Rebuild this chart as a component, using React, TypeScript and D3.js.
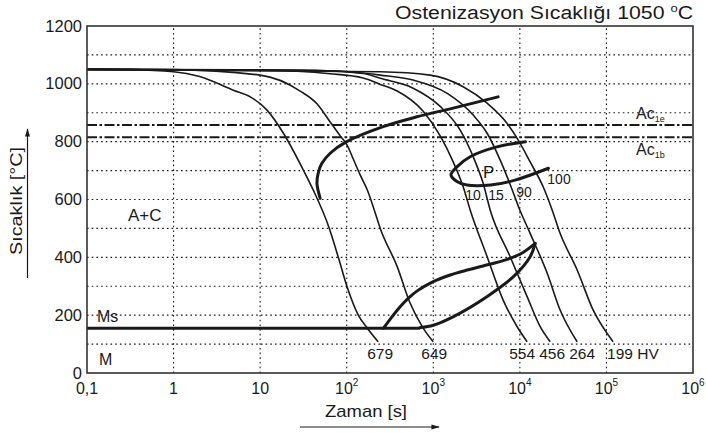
import React, { useEffect, useRef } from "react";
import * as d3 from "d3";

// axis ticks
const yTicks = [0, 200, 400, 600, 800, 1000, 1200];
const yGrid = [100, 200, 300, 400, 500, 600, 700, 800, 900, 1000, 1100];
const xTicks = [0.1, 1, 10, 100, 1e3, 1e4, 1e5, 1e6];
const xTickBase = ["0,1", "1", "10", "10", "10", "10", "10", "10"];
const xTickExp = ["", "", "", "2", "3", "4", "5", "6"];
const xGrid = [1, 10, 100, 1e3, 1e4, 1e5];

// critical temperatures
const ac1e = 858;
const ac1b = 815;
const msTemp = 155;

// cooling curves [time s, temperature °C]
const curve679 = [[0.1, 1050], [0.32, 1049], [1, 1042], [2, 1025], [4.9, 978], [7.7, 955], [12, 909], [18.5, 830], [31.5, 702], [41, 633], [63, 500], [80, 400], [101, 298], [136, 200], [173, 155], [231, 108]];
const curve649 = [[0.1, 1050], [1, 1049], [10, 1030], [29, 975], [45.6, 930], [64.4, 868], [84.1, 820], [101, 788], [119, 740], [143, 685], [173, 633], [208, 564], [244, 500], [383, 368], [541, 241], [764, 155], [998, 108]];
const curve554 = [[0.1, 1050], [10, 1047], [64, 1035], [155, 1020], [244, 998], [383, 975], [764, 905], [1202, 820], [1698, 730], [2213, 644], [2667, 564], [4188, 402], [6412, 252], [9311, 160], [12130, 108]];
const curve456 = [[0.1, 1050], [29, 1048], [155, 1036], [244, 1019], [586, 985], [1202, 922], [2046, 840], [2891, 748], [3767, 656], [4539, 564], [7727, 402], [12130, 264], [17180, 160], [22390, 108]];
const curve264 = [[0.1, 1050], [64, 1045], [244, 1030], [586, 1013], [1449, 967], [2891, 892], [4188, 829], [5929, 736], [7727, 652], [9800, 570], [13150, 483], [20700, 345], [29170, 218], [45920, 108]];
const curve199 = [[0.1, 1050], [244, 1042], [920, 1030], [2213, 990], [4188, 933], [7129, 863], [9550, 806], [13150, 730], [18580, 644], [23600, 564], [29170, 483], [45920, 356], [70150, 218], [119400, 108]];
const coolingCurves = [curve679, curve649, curve554, curve456, curve264, curve199];
const hardness = ["679", "649", "554", "456", "264", "199 HV"];

// transformation lines
const ferriteStart = [[49.4, 604], [45.3, 656], [47.3, 696], [51.7, 725], [64.4, 760], [100, 800], [264, 852], [647, 886], [1698, 916], [5610, 955]];
const pearliteLoop = [[11600, 800], [5420, 782], [2667, 748], [1875, 713], [1600, 685], [1875, 662], [2443, 650], [4600, 650], [8800, 667], [21380, 708]];
const bainiteUpper = [[266, 155], [335, 195], [414, 229], [513, 258], [652, 284], [998, 316], [1567, 339], [2462, 356], [3767, 370], [7129, 393], [10640, 415], [15030, 448]];
const bainiteLower = [[706, 157], [1000, 165], [1710, 195], [4159, 264], [8435, 333], [13150, 402], [15030, 448]];
const msEnd = 706;

// pearlite percentages
const pearlitePct = ["10", "15", "90", "100"];

const App = () => {
  const ref = useRef<SVGSVGElement>(null);

  useEffect(() => {
    const svg = d3.select(ref.current);
    svg.selectAll("*").remove();
    const font = "'Liberation Sans', Arial, sans-serif";
    const ink = "#1a1a1a";

    const x = d3.scaleLog().domain([0.1, 1e6]).range([87, 693]);
    const y = d3.scaleLinear().domain([0, 1200]).range([373, 26]);

    // grid
    svg.append("g")
      .selectAll("line")
      .data(yGrid)
      .enter()
      .append("line")
      .attr("x1", x(0.1)).attr("x2", x(1e6))
      .attr("y1", (d) => y(d)).attr("y2", (d) => y(d))
      .attr("stroke", ink).attr("stroke-width", 1.1)
      .attr("stroke-dasharray", "1.6,3.1");
    svg.append("g")
      .selectAll("line")
      .data(xGrid)
      .enter()
      .append("line")
      .attr("x1", (d) => x(d)).attr("x2", (d) => x(d))
      .attr("y1", y(0)).attr("y2", y(1200))
      .attr("stroke", ink).attr("stroke-width", 1.1)
      .attr("stroke-dasharray", "1.6,3.1");

    // Ac1e / Ac1b dash-dot lines
    [ac1e, ac1b].forEach((t) => {
      svg.append("line")
        .attr("x1", x(0.1)).attr("x2", x(1e6))
        .attr("y1", y(t)).attr("y2", y(t))
        .attr("stroke", ink).attr("stroke-width", 2)
        .attr("stroke-dasharray", "10,2.5,2.5,2.5");
    });

    const cool = d3.line<number[]>()
      .x((d) => x(d[0]))
      .y((d) => y(d[1]))
      .curve(d3.curveMonotoneX);
    const smooth = d3.line<number[]>()
      .x((d) => x(d[0]))
      .y((d) => y(d[1]))
      .curve(d3.curveCatmullRom.alpha(0.5));

    // cooling curves
    svg.append("g")
      .selectAll("path")
      .data(coolingCurves)
      .enter()
      .append("path")
      .attr("d", (d) => cool(d))
      .attr("fill", "none")
      .attr("stroke", ink)
      .attr("stroke-width", 1.6);

    // transformation lines (thick)
    [ferriteStart, pearliteLoop, bainiteUpper, bainiteLower].forEach((pts) => {
      svg.append("path")
        .attr("d", smooth(pts))
        .attr("fill", "none")
        .attr("stroke", ink)
        .attr("stroke-width", 3)
        .attr("stroke-linecap", "round");
    });

    // Ms line
    svg.append("line")
      .attr("x1", x(0.1)).attr("x2", x(msEnd))
      .attr("y1", y(msTemp)).attr("y2", y(msTemp))
      .attr("stroke", ink).attr("stroke-width", 3);

    // frame
    svg.append("rect")
      .attr("x", x(0.1)).attr("y", y(1200))
      .attr("width", x(1e6) - x(0.1))
      .attr("height", y(0) - y(1200))
      .attr("fill", "none")
      .attr("stroke", "#333")
      .attr("stroke-width", 1.6);

    const text = (tx: number, ty: number, s: string, size = 16, anchor = "start") =>
      svg.append("text")
        .attr("x", tx).attr("y", ty)
        .attr("font-family", font)
        .attr("font-size", size)
        .attr("text-anchor", anchor)
        .attr("fill", ink)
        .text(s);

    // y tick labels
    yTicks.forEach((t) => text(82, y(t) + 5.5, String(t), 16.5, "end"));

    // x tick labels with superscripts
    xTicks.forEach((t, i) => {
      const lab = svg.append("text")
        .attr("x", x(t)).attr("y", 394)
        .attr("font-family", font)
        .attr("font-size", 16)
        .attr("text-anchor", "middle")
        .attr("fill", ink);
      lab.append("tspan").text(xTickBase[i]);
      if (xTickExp[i]) {
        lab.append("tspan").attr("font-size", 10).attr("dy", -8).text(xTickExp[i]);
      }
    });

    // hardness values under curve ends
    const hvNudge = [2, 1, -5, 2, 5, -6];
    coolingCurves.forEach((c, i) => {
      const end = c[c.length - 1];
      text(x(end[0]) + hvNudge[i], 359, hardness[i], 15.5, i === 5 ? "start" : "middle");
    });

    // region labels
    text(97, 322, "Ms", 16);
    text(99, 365, "M", 16);
    text(128, 221, "A+C", 17);
    text(483, 178, "P", 17);

    // pearlite percentages
    const pctPos = [[473, 200], [496, 200], [524, 197], [559, 184]];
    pearlitePct.forEach((s, i) => text(pctPos[i][0], pctPos[i][1], s, 14, "middle"));

    // Ac labels with subscripts
    const acLabel = (ty: number, sub: string) => {
      const t = svg.append("text")
        .attr("x", 636).attr("y", ty)
        .attr("font-family", font)
        .attr("font-size", 16)
        .attr("fill", ink);
      t.append("tspan").text("Ac");
      t.append("tspan").attr("font-size", 9).attr("dy", 3).text(sub);
    };
    acLabel(119, "1e");
    acLabel(155, "1b");

    // title
    const title = svg.append("text")
      .attr("x", 395).attr("y", 19)
      .attr("font-family", font)
      .attr("font-size", 18)
      .attr("textLength", 298)
      .attr("lengthAdjust", "spacingAndGlyphs")
      .attr("fill", ink);
    title.append("tspan").text("Ostenizasyon Sıcaklığı 1050 ");
    title.append("tspan").attr("font-size", 11).attr("dy", -7).text("o");
    title.append("tspan").attr("dy", 7).text("C");

    // axis titles with arrows
    svg.append("defs")
      .append("marker")
      .attr("id", "arr")
      .attr("viewBox", "0 0 10 10")
      .attr("refX", 9).attr("refY", 5)
      .attr("markerWidth", 7).attr("markerHeight", 7)
      .attr("orient", "auto")
      .append("path")
      .attr("d", "M0,2 L10,5 L0,8 z")
      .attr("fill", ink);

    svg.append("text")
      .attr("transform", "translate(22,255) rotate(-90)")
      .attr("font-family", font)
      .attr("font-size", 17)
      .attr("textLength", 108)
      .attr("lengthAdjust", "spacingAndGlyphs")
      .attr("fill", ink)
      .text("Sıcaklık  [°C]");
    svg.append("line")
      .attr("x1", 27.5).attr("y1", 278)
      .attr("x2", 27.5).attr("y2", 129)
      .attr("stroke", ink).attr("stroke-width", 1.2)
      .attr("marker-end", "url(#arr)");

    svg.append("text")
      .attr("x", 325).attr("y", 417)
      .attr("font-family", font)
      .attr("font-size", 17)
      .attr("textLength", 82)
      .attr("lengthAdjust", "spacingAndGlyphs")
      .attr("fill", ink)
      .text("Zaman [s]");
    svg.append("line")
      .attr("x1", 300).attr("y1", 427)
      .attr("x2", 439).attr("y2", 427)
      .attr("stroke", ink).attr("stroke-width", 1.2)
      .attr("marker-end", "url(#arr)");
  }, []);

  return (
    <svg
      ref={ref}
      width={706}
      height={433}
      style={{ position: "absolute", left: 0, top: 0, background: "#fff" }}
    />
  );
};

export default App;
